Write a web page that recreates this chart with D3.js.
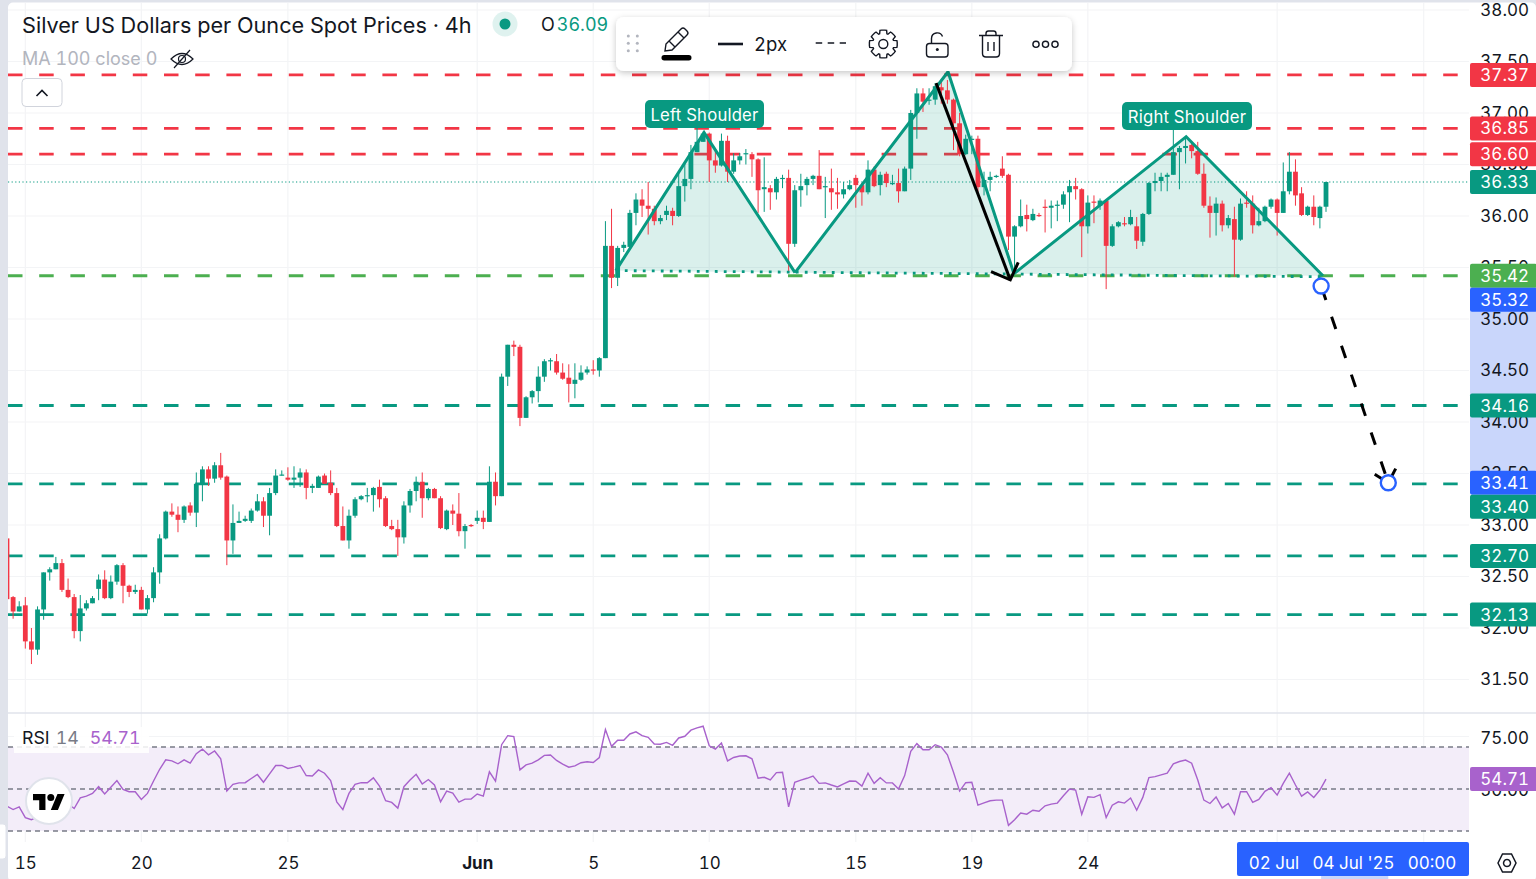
<!DOCTYPE html>
<meta charset="utf-8">
<style>
body { margin: 0; background: #fff; }
text { font-family: Inter, "Noto Sans", sans-serif; font-variant-numeric: tabular-nums; }
.price-axis text, .rsi-axis text { font-size: 17px; fill: #131722; text-anchor: end; }
.time-axis text { font-size: 17px; fill: #131722; }
</style>
<svg width="1536" height="879"></svg>
<script src="https://d3js.org/d3.v7.min.js"></script>
<script>
	// one 4h candle per entry, oldest first
	var opens = [
		32.87,32.30,32.16,32.22,31.87,31.79,32.18,32.54,32.57,32.63,
		32.37,32.30,31.97,32.19,32.24,32.38,32.47,32.29,32.45,32.61,
		32.41,32.35,32.37,32.18,32.29,32.54,32.87,33.13,33.10,33.05,
		33.19,33.12,33.40,33.54,33.45,33.58,33.47,32.85,33.02,33.04,
		33.04,33.14,33.23,33.09,33.31,33.48,33.46,33.44,33.46,33.51,
		33.36,33.36,33.48,33.41,33.31,32.99,32.85,33.09,33.25,33.28,
		33.29,33.37,33.26,32.99,32.96,32.88,33.19,33.33,33.42,33.26,
		33.35,33.26,32.96,33.14,33.11,32.94,33.00,33.04,33.07,33.03,
		33.42,33.28,34.44,34.75,34.73,34.04,34.24,34.30,34.44,34.59,
		34.59,34.48,34.43,34.37,34.41,34.48,34.51,34.50,34.62,35.71,
		35.40,35.69,35.70,36.03,36.16,36.10,36.07,35.95,36.01,36.05,
		36.00,36.29,36.36,36.62,36.72,36.80,36.54,36.49,36.73,36.43,
		36.54,36.60,36.60,36.55,36.26,36.27,36.23,36.36,36.37,35.73,
		36.25,36.30,36.36,36.39,36.28,36.27,36.23,36.21,36.26,36.37,
		36.30,36.23,36.45,36.30,36.41,36.32,36.32,36.24,36.46,37.00,
		37.19,37.12,37.13,37.25,37.22,37.13,36.90,36.60,36.75,36.75,
		36.28,36.35,36.38,36.46,36.40,35.80,35.90,36.01,35.96,36.01,
		36.09,36.08,36.10,36.11,36.23,36.29,36.26,35.90,36.14,36.10,
		36.15,35.71,35.90,35.93,35.92,35.90,35.75,36.02,36.32,36.34,
		36.38,36.40,36.62,36.66,36.69,36.63,36.41,36.10,36.03,36.12,
		35.91,35.97,35.77,36.13,36.12,35.91,35.95,36.09,36.16,36.03,
		36.24,36.43,36.22,36.01,36.09,35.98,36.09
	];
	var highs = [
		32.87,32.31,32.26,32.30,32.00,32.21,32.54,32.59,32.69,32.67,
		32.48,32.33,32.32,32.27,32.31,32.52,32.56,32.51,32.62,32.63,
		32.42,32.42,32.40,32.32,32.59,32.91,33.14,33.21,33.18,33.19,
		33.22,33.51,33.57,33.57,33.61,33.70,33.48,33.20,33.13,33.09,
		33.16,33.30,33.27,33.36,33.54,33.53,33.56,33.57,33.55,33.54,
		33.40,33.48,33.50,33.53,33.36,33.18,33.15,33.27,33.29,33.36,
		33.37,33.44,33.28,33.05,33.05,33.23,33.35,33.47,33.51,33.36,
		33.36,33.28,33.15,33.20,33.31,33.01,33.01,33.14,33.14,33.57,
		33.51,34.47,34.75,34.79,34.75,34.25,34.31,34.54,34.61,34.62,
		34.66,34.57,34.56,34.57,34.55,34.54,34.60,34.63,35.95,36.07,
		35.71,35.75,36.06,36.22,36.26,36.33,36.10,36.01,36.10,36.08,
		36.41,36.53,36.69,36.87,36.82,36.81,36.64,36.80,36.78,36.61,
		36.61,36.65,36.62,36.56,36.57,36.30,36.38,36.40,36.45,36.30,
		36.41,36.38,36.40,36.64,36.38,36.46,36.37,36.33,36.35,36.40,
		36.32,36.54,36.48,36.43,36.43,36.40,36.46,36.48,37.03,37.24,
		37.24,37.24,37.29,37.32,37.32,37.14,37.00,36.79,36.78,36.78,
		36.43,36.43,36.40,36.58,36.41,35.91,36.16,36.11,36.07,36.03,
		36.16,36.15,36.15,36.24,36.35,36.37,36.27,36.20,36.20,36.17,
		36.16,35.92,35.95,35.99,36.06,35.99,36.03,36.33,36.42,36.42,
		36.42,36.85,36.68,36.77,36.71,36.72,36.51,36.19,36.18,36.15,
		36.01,36.09,36.17,36.24,36.20,36.08,36.10,36.17,36.17,36.52,
		36.62,36.55,36.28,36.10,36.20,36.10,36.33
	];
	var lows = [
		32.28,32.09,32.16,31.80,31.65,31.74,32.08,32.46,32.57,32.35,
		32.29,31.90,31.87,32.17,32.24,32.27,32.28,32.28,32.42,32.24,
		32.30,32.33,32.18,32.14,32.25,32.43,32.86,33.08,32.93,33.02,
		33.09,32.98,33.23,33.38,33.41,33.44,32.61,32.72,33.02,33.03,
		33.02,33.13,32.98,32.90,33.29,33.48,33.43,33.36,33.37,33.25,
		33.31,33.36,33.40,33.29,32.98,32.85,32.77,33.07,33.24,33.22,
		33.13,33.17,32.98,32.95,32.70,32.82,33.12,33.23,33.07,33.24,
		33.26,32.96,32.95,33.00,32.89,32.77,32.98,33.01,32.96,33.03,
		33.19,33.28,34.35,34.64,33.96,34.04,34.18,34.19,34.39,34.50,
		34.46,34.41,34.19,34.23,34.40,34.46,34.46,34.44,34.62,35.30,
		35.32,35.65,35.69,35.91,35.99,35.82,35.91,35.92,35.96,35.91,
		35.99,36.14,36.26,36.62,36.72,36.33,36.42,36.48,36.33,36.41,
		36.50,36.50,36.38,36.03,36.04,36.06,36.16,36.27,35.46,35.70,
		36.09,36.20,36.30,36.26,35.98,36.06,36.07,36.17,36.25,36.08,
		36.10,36.21,36.28,36.20,36.28,36.30,36.13,36.24,36.35,36.75,
		37.01,37.08,37.08,37.09,37.09,36.64,36.58,36.59,36.60,36.23,
		36.20,36.24,36.37,36.37,35.67,35.47,35.89,35.85,35.95,35.99,
		35.84,35.88,35.95,36.07,35.94,36.16,35.60,35.83,35.93,36.06,
		35.29,35.70,35.89,35.90,35.91,35.68,35.71,36.01,36.24,36.24,
		36.24,36.40,36.26,36.51,36.56,36.40,36.08,35.79,35.81,35.85,
		35.88,35.41,35.76,36.08,35.83,35.90,35.94,36.07,35.81,36.03,
		36.21,36.10,36.00,36.00,35.91,35.88,36.04
	];
	var closes = [
		32.28,32.16,32.21,31.87,31.79,32.18,32.54,32.57,32.63,32.37,
		32.30,31.97,32.19,32.24,32.29,32.47,32.29,32.45,32.61,32.41,
		32.35,32.37,32.18,32.29,32.54,32.87,33.13,33.10,33.05,33.18,
		33.12,33.40,33.54,33.45,33.58,33.46,32.85,33.02,33.04,33.06,
		33.14,33.23,33.09,33.31,33.48,33.49,33.44,33.46,33.51,33.36,
		33.38,33.47,33.40,33.31,32.99,32.85,33.09,33.25,33.28,33.29,
		33.36,33.25,32.99,32.96,32.88,33.19,33.33,33.42,33.26,33.35,
		33.26,32.97,33.14,33.11,32.94,32.99,32.99,33.07,33.03,33.42,
		33.28,34.44,34.75,34.73,34.04,34.24,34.30,34.44,34.59,34.60,
		34.48,34.42,34.37,34.41,34.48,34.51,34.50,34.62,35.71,35.40,
		35.69,35.72,36.03,36.16,36.10,36.07,35.95,35.98,36.05,36.00,
		36.29,36.36,36.62,36.72,36.80,36.54,36.49,36.73,36.43,36.54,
		36.58,36.61,36.55,36.25,36.28,36.23,36.36,36.37,35.73,36.25,
		36.29,36.36,36.39,36.26,36.29,36.23,36.21,36.26,36.30,36.30,
		36.23,36.45,36.29,36.40,36.32,36.32,36.24,36.46,37.00,37.19,
		37.11,37.13,37.26,37.22,37.13,36.90,36.60,36.75,36.75,36.28,
		36.35,36.38,36.39,36.39,35.80,35.90,36.00,35.97,36.02,36.00,
		36.08,36.10,36.11,36.21,36.29,36.26,35.90,36.13,36.13,36.15,
		35.71,35.90,35.94,35.92,35.99,35.76,36.02,36.32,36.34,36.38,
		36.40,36.62,36.66,36.68,36.63,36.41,36.10,36.03,36.12,35.91,
		35.98,35.77,36.12,36.12,35.91,35.95,36.09,36.16,36.03,36.24,
		36.43,36.20,36.01,36.09,35.99,36.09,36.33
	];
	var rsiValues = [
		41.8,40.2,41.5,36.4,35.4,36.7,38,39.1,39.9,42.3,
		43.1,40.7,45.8,46.6,47.9,51.1,47.6,50.8,54,49.8,
		48.7,48.7,45,47.9,53.8,59.4,63.9,63.4,62,63.9,
		62.3,66.8,69,66.3,68.1,64.4,49,52.2,52.9,53,
		55,56.9,53.2,57.2,61.2,61.2,59.8,60.4,61.2,56.4,
		56.2,59.1,57.5,54,43.9,40.2,47.9,52.2,53,53,
		55.3,51.4,44.4,43.6,40.9,51.1,54.3,57,52.4,54.5,
		51.9,43.9,49,48.1,43.8,45.2,45.2,47.6,46.6,58.2,
		53.8,71.1,75.4,75,59.1,61.5,62.3,63.9,66,66.2,
		63.6,61.8,60.4,61,62.5,63,62.6,65,78.3,70.3,
		73.2,73.2,76.2,77.2,75.4,74.6,71.4,71.3,72.2,70.8,
		74.3,75.1,78,79.1,79.9,70.6,69,71.9,63.4,65,
		65.7,65.8,64.4,55.1,55.6,54.3,57.8,58,41.5,53.2,
		54.2,55.1,56.2,52.7,52.9,51.9,51,52.4,53.8,53.7,
		51.4,57.5,52.7,55.4,52.9,52.9,50,56.4,67.9,71.6,
		68.7,68.7,71.1,70,66.3,58,49,53,53.2,42.3,
		43.4,44.4,44.7,44.7,32.7,35.4,38.6,38,39.9,39.4,
		42,42.8,43.3,46.8,50,49.5,38,46.3,46,47.3,
		36.4,42.3,43.9,43.3,45.7,39.9,46,55.4,55.9,56.7,
		57.5,62,63.1,63.8,62.3,54.3,44.7,43.1,46.2,41,
		43.1,38,48.7,48.7,43.6,45,48.9,50.6,47.1,52.7,
		57.5,51.9,46.6,48.6,46,49.5,54.71
	];

	var priceTicks = [38,37.5,37,36.5,36,35.5,35,34.5,34,33.5,33,32.5,32,31.5];
	var rsiTicks = [75,50];
	var rsiBands = [70,50,30];
	var timeTickBars = [3,22,46,77,96,115,139,158,177];
	var timeTickLabels = ["15","20","25","Jun","5","10","15","19","24"];
	var extraGridBars = [208,232];

	var resistanceLevels = [37.37,36.85,36.60];
	var neckLevels = [35.42];
	var supportLevels = [34.16,33.40,32.70,32.13];
	var lastClose = 36.33;
	var fromPrice = 35.32;
	var toPrice = 33.41;

	// head and shoulders drawing, [bar, price]
	var leftLeg = [[99.7,35.47],[114.15,36.81],[129.05,35.45]];
	var headLeg = [[129.05,35.45],[154.1,37.40],[164.9,35.44]];
	var rightLeg = [[164.9,35.44],[193.1,36.77],[215.5,35.42]];
	var neckline = [[99.7,35.47],[215.5,35.41]];
	var blackArrow = [[152.15,37.29],[164.3,35.38]];
	var blackArrowHead = [[161.15,35.46],[164.3,35.38],[165.6,35.55]];
	var targetArrow = [[215.2,35.32],[226.2,33.41]];
	var targetHeadLeft = [[226.2,33.41],[223.5,33.51]];
	var targetHeadRight = [[226.2,33.41],[227.7,33.58]];

	var teal = "#089981";
	var red = "#f23645";
	var levelGreen = "#4caf50";
	var blue = "#2962ff";
	var purple = "#a862cc";
	var gridColor = "#f3f4f6";
	var borderColor = "#e0e3eb";
	var textColor = "#131722";
	var paneRight = 1469;

	var svg = d3.select("svg");
	var width = +svg.attr("width");
	var height = +svg.attr("height");

	var x = d3.scaleLinear().domain([0,216]).range([7,1326]);
	var y = d3.scaleLinear().domain([36,32]).range([216,628]);
	var rsiY = d3.scaleLinear().domain([70,30]).range([747,831]);
	var lineXY = d3.line().x(function(d) { return x(d[0]); }).y(function(d) { return y(d[1]); });

	// frame
	svg.append("rect").attr("width", width).attr("height", height).attr("fill", borderColor);
	svg.append("rect").attr("x", 8).attr("y", 2.5).attr("width", width - 8).attr("height", height)
		.attr("rx", 5).attr("fill", "#fff");
	svg.append("defs").append("clipPath").attr("id", "pane")
		.append("rect").attr("x", 8).attr("y", 0).attr("width", paneRight - 8).attr("height", 713);

	// grid
	var grid = svg.append("g");
	grid.selectAll(".gx").data(timeTickBars.concat(extraGridBars)).enter().append("line")
		.attr("x1", x).attr("x2", x).attr("y1", 3).attr("y2", 842)
		.attr("stroke", gridColor).attr("stroke-width", 1.2);
	grid.selectAll(".gy").data(priceTicks).enter().append("line")
		.attr("x1", 8).attr("x2", paneRight).attr("y1", y).attr("y2", y)
		.attr("stroke", gridColor).attr("stroke-width", 1.2);
	grid.selectAll(".gr").data(rsiTicks).enter().append("line")
		.attr("x1", 8).attr("x2", paneRight).attr("y1", rsiY).attr("y2", rsiY)
		.attr("stroke", gridColor).attr("stroke-width", 1.2);
	svg.append("line").attr("x1", 8).attr("x2", width).attr("y1", 713).attr("y2", 713)
		.attr("stroke", borderColor).attr("stroke-width", 1.5);

	// horizontal levels sit behind the candles
	function addLevels(values, color) {
		svg.append("g").selectAll("line").data(values).enter().append("line")
			.attr("x1", 8).attr("x2", paneRight).attr("y1", y).attr("y2", y)
			.attr("stroke", color).attr("stroke-width", 2.8).attr("stroke-dasharray", "14.5,16.7");
	}
	addLevels(resistanceLevels, red);
	addLevels(neckLevels, levelGreen);
	addLevels(supportLevels, teal);
	svg.append("line").attr("x1", 8).attr("x2", paneRight).attr("y1", y(lastClose)).attr("y2", y(lastClose))
		.attr("stroke", teal).attr("stroke-width", 1.2).attr("stroke-dasharray", "1.2,2.4");

	// pattern fill
	[leftLeg, headLeg, rightLeg].forEach(function(leg) {
		svg.append("path").attr("d", lineXY(leg) + "Z").attr("fill", teal).attr("fill-opacity", 0.15);
	});

	// candles
	var bars = d3.range(opens.length);
	var candles = svg.append("g").attr("clip-path", "url(#pane)");
	var barColor = function(i) { return closes[i] >= opens[i] ? teal : red; };
	candles.selectAll(".wick").data(bars).enter().append("line")
		.attr("x1", x).attr("x2", x)
		.attr("y1", function(i) { return y(highs[i]); })
		.attr("y2", function(i) { return y(lows[i]); })
		.attr("stroke", barColor).attr("stroke-width", 1);
	candles.selectAll(".body").data(bars).enter().append("rect")
		.attr("x", function(i) { return x(i) - 2.4; })
		.attr("width", 4.8)
		.attr("y", function(i) { return y(Math.max(opens[i], closes[i])); })
		.attr("height", function(i) { return Math.max(1.2, Math.abs(y(opens[i]) - y(closes[i]))); })
		.attr("fill", barColor);

	// pattern lines on top
	[leftLeg, headLeg, rightLeg].forEach(function(leg) {
		svg.append("path").attr("d", lineXY(leg)).attr("fill", "none")
			.attr("stroke", teal).attr("stroke-width", 3);
	});
	svg.append("path").attr("d", lineXY(neckline)).attr("fill", "none")
		.attr("stroke", teal).attr("stroke-width", 2.8).attr("stroke-dasharray", "2.8,6.2");

	function shoulderLabel(name, left, top, w) {
		svg.append("rect").attr("x", left).attr("y", top).attr("width", w).attr("height", 28)
			.attr("rx", 5).attr("fill", teal);
		svg.append("text").attr("x", left + w / 2).attr("y", top + 20.5).attr("text-anchor", "middle")
			.attr("fill", "#fff").style("font-size", "16.7px").style("letter-spacing", "0.2px").text(name);
	}
	shoulderLabel("Left Shoulder", 645, 100, 119);
	shoulderLabel("Right Shoulder", 1122, 102, 130);

	// arrows
	svg.append("path").attr("d", lineXY(blackArrow)).attr("fill", "none")
		.attr("stroke", "#000").attr("stroke-width", 3);
	svg.append("path").attr("d", lineXY(blackArrowHead)).attr("fill", "none")
		.attr("stroke", "#000").attr("stroke-width", 3);
	[targetArrow, targetHeadLeft, targetHeadRight].forEach(function(seg) {
		svg.append("path").attr("d", lineXY(seg)).attr("fill", "none")
			.attr("stroke", "#000").attr("stroke-width", 3).attr("stroke-dasharray", "13,17.6")
			.attr("stroke-dashoffset", seg === targetArrow ? -1.8 : -3);
	});
	[targetArrow[0], targetArrow[1]].forEach(function(p) {
		svg.append("circle").attr("cx", x(p[0])).attr("cy", y(p[1])).attr("r", 7.5)
			.attr("fill", "#fff").attr("stroke", blue).attr("stroke-width", 2.4);
	});

	// RSI pane
	svg.append("rect").attr("x", 8).attr("width", paneRight - 8)
		.attr("y", rsiY(70)).attr("height", rsiY(30) - rsiY(70))
		.attr("fill", "#f3edf9");
	svg.append("g").selectAll("line").data(rsiBands).enter().append("line")
		.attr("x1", 8).attr("x2", paneRight).attr("y1", rsiY).attr("y2", rsiY)
		.attr("stroke", "#787b86").attr("stroke-width", 1.3).attr("stroke-dasharray", "5,4");
	svg.append("path").datum(rsiValues)
		.attr("d", d3.line().x(function(d, i) { return x(i); }).y(function(d) { return rsiY(d); }))
		.attr("clip-path", "url(#rsiclip)")
		.attr("fill", "none").attr("stroke", purple).attr("stroke-width", 1.4);
	svg.select("defs").append("clipPath").attr("id", "rsiclip")
		.append("rect").attr("x", 8).attr("y", 713).attr("width", paneRight - 8).attr("height", 130);

	svg.append("rect").attr("x", 14).attr("y", 727).attr("width", 135).attr("height", 26)
		.attr("fill", "#fff").attr("fill-opacity", 0.85);
	var rsiLegend = svg.append("text").attr("x", 22).attr("y", 744).style("font-size", "17.8px");
	rsiLegend.append("tspan").attr("fill", textColor).text("RSI");
	rsiLegend.append("tspan").attr("fill", "#787b86").attr("dx", 6).text("14");
	rsiLegend.append("tspan").attr("fill", purple).attr("dx", 11).text("54.71");

	// price axis
	svg.append("rect").attr("x", paneRight + 1).attr("width", width - paneRight)
		.attr("y", y(fromPrice)).attr("height", y(toPrice) - y(fromPrice)).attr("fill", "#c9d6fb");
	var priceAxis = svg.append("g").attr("class", "price-axis").attr("transform", "translate(" + paneRight + ",0)")
		.call(d3.axisRight(y).tickValues(priceTicks).tickSize(0).tickFormat(d3.format(".2f")));
	priceAxis.select(".domain").remove();
	priceAxis.selectAll("text").attr("x", 60);

	var rsiAxis = svg.append("g").attr("class", "rsi-axis").attr("transform", "translate(" + paneRight + ",0)")
		.call(d3.axisRight(rsiY).tickValues(rsiTicks).tickSize(0).tickFormat(d3.format(".2f")));
	rsiAxis.select(".domain").remove();
	rsiAxis.selectAll("text").attr("x", 60).attr("dy", "0.4em");

	// coloured price tags, pushed down where they would overlap
	var tagValues = resistanceLevels.concat([lastClose]).concat(neckLevels).concat([fromPrice]).concat(supportLevels).concat([toPrice])
		.sort(d3.descending);
	var tagColors = function(v) {
		if (v === lastClose) return teal;
		if (resistanceLevels.indexOf(v) >= 0) return red;
		if (neckLevels.indexOf(v) >= 0) return levelGreen;
		if (v === fromPrice || v === toPrice) return blue;
		return teal;
	};
	var lastTagY = -100;
	tagValues.forEach(function(v) {
		var tagY = Math.max(y(v), lastTagY + 24);
		lastTagY = tagY;
		addTag(d3.format(".2f")(v), tagY, tagColors(v));
	});
	addTag("54.71", rsiY(54.71), purple);
	function addTag(label, centre, color) {
		svg.append("rect").attr("x", paneRight + 1).attr("y", centre - 12).attr("width", width - paneRight)
			.attr("height", 24).attr("rx", 2).attr("fill", color);
		svg.append("text").attr("x", 1529).attr("y", centre + 6).attr("text-anchor", "end")
			.attr("fill", "#fff").style("font-size", "17px").text(label);
	}

	// time axis
	var timeAxis = svg.append("g").attr("class", "time-axis").attr("transform", "translate(0,842)")
		.call(d3.axisBottom(x).tickValues(timeTickBars).tickSize(0).tickFormat(function(d, i) { return timeTickLabels[i]; }));
	timeAxis.select(".domain").remove();
	timeAxis.selectAll("text").attr("y", 15).attr("dy", "0.71em")
		.style("font-weight", function(d, i) { return timeTickLabels[i] === "Jun" ? 700 : 400; });

	svg.append("rect").attr("x", x(215.2)).attr("y", 876).attr("width", x(226.2) - x(215.2)).attr("height", 3).attr("fill", "#c9d6fb");
	svg.append("rect").attr("x", 1237).attr("y", 842).attr("width", 232).attr("height", 34).attr("rx", 2).attr("fill", blue);
	[["02 Jul", 1274], ["04 Jul '25", 1353.5], ["00:00", 1432]].forEach(function(t) {
		svg.append("text").attr("x", t[1]).attr("y", 869).attr("text-anchor", "middle")
			.attr("fill", "#fff").style("font-size", "17px").text(t[0]);
	});

	// settings icon
	svg.append("path").attr("d", "M1498 863l4.5-9h9l4.5 9-4.5 9h-9zM1507 859.5a3.5 3.5 0 1 0 .01 0")
		.attr("fill", "none").attr("stroke", textColor).attr("stroke-width", 1.5);

	// left collapse tab and logo
	svg.append("rect").attr("x", -4).attr("y", 824).attr("width", 10).attr("height", 35).attr("rx", 3)
		.attr("fill", "#fff").attr("stroke", borderColor);
	svg.append("circle").attr("cx", 49).attr("cy", 801).attr("r", 23)
		.attr("fill", "#fff").attr("stroke", borderColor).attr("stroke-width", 2);
	svg.append("path").attr("transform", "translate(33,790.5) scale(.89)")
		.attr("d", "M14 22H7V11H0V4h14v18zM28 22h-8l7.5-18h8L28 22z").attr("fill", "#000");
	svg.append("circle").attr("cx", 50.8).attr("cy", 797.6).attr("r", 3.5).attr("fill", "#000");

	// header
	svg.append("text").attr("x", 22).attr("y", 33).attr("fill", textColor).style("font-size", "21.65px")
		.text("Silver US Dollars per Ounce Spot Prices · 4h");
	svg.append("circle").attr("cx", 505).attr("cy", 24).attr("r", 12.5).attr("fill", teal).attr("fill-opacity", 0.13);
	svg.append("circle").attr("cx", 505).attr("cy", 24).attr("r", 5.5).attr("fill", teal);
	var ohlc = svg.append("text").attr("x", 541).attr("y", 31).style("font-size", "18px");
	ohlc.append("tspan").attr("fill", textColor).text("O");
	ohlc.append("tspan").attr("fill", teal).attr("dx", 2).text("36.09");
	svg.append("text").attr("x", 22).attr("y", 65).attr("fill", "#b2b5be").style("font-size", "18px").text("MA 100 close 0");
	var eye = svg.append("g").attr("fill", "none").attr("stroke", textColor).attr("stroke-width", 1.2);
	eye.append("path").attr("d", "M171 59q11-11 22 0q-11 11-22 0z");
	eye.append("circle").attr("cx", 182).attr("cy", 59).attr("r", 3.5);
	eye.append("path").attr("d", "M174 68l16-18");
	svg.append("rect").attr("x", 22).attr("y", 78.5).attr("width", 40).attr("height", 28).attr("rx", 4)
		.attr("fill", "#fff").attr("stroke", "#d1d4dc");
	svg.append("path").attr("d", "M36.5 96l5.5-5.5 5.5 5.5").attr("fill", "none").attr("stroke", textColor).attr("stroke-width", 1.6);

	// floating drawing toolbar
	var shadow = svg.select("defs").append("filter").attr("id", "shadow").attr("x", "-10%").attr("y", "-30%").attr("width", "120%").attr("height", "170%");
	shadow.append("feDropShadow").attr("dx", 0).attr("dy", 2).attr("stdDeviation", 3).attr("flood-color", "#000").attr("flood-opacity", 0.22);
	svg.append("rect").attr("x", 616).attr("y", 17).attr("width", 456).attr("height", 54).attr("rx", 8)
		.attr("fill", "#fff").attr("filter", "url(#shadow)");
	[628.3,637.3].forEach(function(cx) {
		[36,43.3,50.7].forEach(function(cy) {
			svg.append("circle").attr("cx", cx).attr("cy", cy).attr("r", 1.5).attr("fill", "#b2b5be");
		});
	});
	var tools = svg.append("g").attr("fill", "none").attr("stroke", textColor).attr("stroke-width", 1.4);
	tools.append("path").attr("d", "M666 44l15-15q2-2 4 0l2 2q2 2 0 4l-15 15-7 1zM678 32l6 6M669 41l6 6");
	svg.append("rect").attr("x", 661.5).attr("y", 55).attr("width", 30).attr("height", 5.5).attr("rx", 2.7).attr("fill", "#000");
	svg.append("line").attr("x1", 718).attr("x2", 743).attr("y1", 44).attr("y2", 44).attr("stroke", textColor).attr("stroke-width", 2.6);
	svg.append("text").attr("x", 754).attr("y", 51).attr("fill", textColor).style("font-size", "18.5px").text("2px");
	svg.append("line").attr("x1", 815.7).attr("x2", 846).attr("y1", 43).attr("y2", 43).attr("stroke", textColor).attr("stroke-width", 1.6).attr("stroke-dasharray", "6.5,5.5");

	// gear outline from eight teeth
	var gear = [];
	d3.range(8).forEach(function(k) {
		var a = k * Math.PI / 4;
		[[-0.24,14],[-0.12,14],[0.12,14],[0.24,14],[0.34,10.8],[0.44,10.8]].forEach(function(s) {
			gear.push([a + s[0], s[1]]);
		});
	});
	tools.append("path").attr("transform", "translate(883.3,44)")
		.attr("d", d3.lineRadial().angle(function(d) { return d[0]; }).radius(function(d) { return d[1]; }).curve(d3.curveLinearClosed)(gear));
	tools.append("circle").attr("cx", 883.3).attr("cy", 44).attr("r", 4.5);
	// unlocked padlock
	tools.append("rect").attr("x", 926.5).attr("y", 43.5).attr("width", 21.5).attr("height", 13.5).attr("rx", 3);
	tools.append("path").attr("d", "M931.5 43.5v-5a5.7 5.7 0 0 1 11-2");
	svg.append("circle").attr("cx", 937.3).attr("cy", 49.5).attr("r", 1.5).attr("fill", textColor);
	// bin
	tools.append("path").attr("d", "M979 35.5h24M982.5 35.5v18q0 3.5 3.5 3.5h10q3.5 0 3.5-3.5v-18M986 35.5v-2q0-2.5 2.5-2.5h5q2.5 0 2.5 2.5v2M988 42v9M994 42v9");
	[1036,1045.5,1055].forEach(function(cx) {
		tools.append("circle").attr("cx", cx).attr("cy", 44.3).attr("r", 3.1);
	});
</script>
